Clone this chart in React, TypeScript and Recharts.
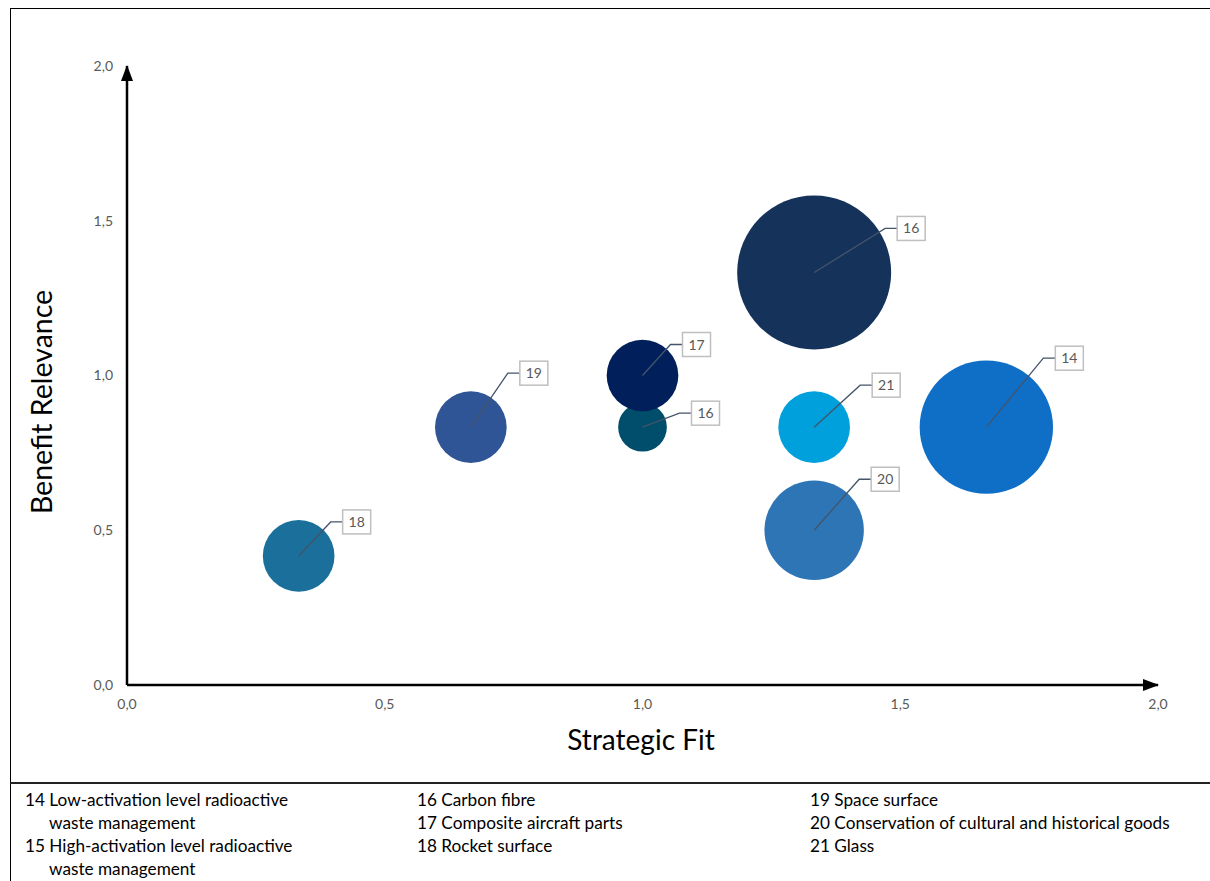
import React from 'react';
import { ScatterChart, Scatter, XAxis, YAxis, ZAxis, Cell } from 'recharts';

// bubble values, drawn in this order (small 16 before 17 so 17 sits on top)
const ids = ['14', '16', '21', '20', '16', '17', '19', '18'];
const strategicFit = [1.667, 1.333, 1.333, 1.333, 1.0, 1.0, 0.667, 0.333];
const benefitRelevance = [0.833, 1.333, 0.833, 0.5, 0.833, 1.0, 0.833, 0.417];
const bubbleSize = [4.5, 6.0, 1.3, 2.5, 0.6, 1.3, 1.3, 1.3];

const ticks = [0, 0.5, 1, 1.5, 2];

const legendCols = [
  ['14 Low-activation level radioactive|waste management', '15 High-activation level radioactive|waste management'],
  ['16 Carbon fibre', '17 Composite aircraft parts', '18 Rocket surface'],
  ['19 Space surface', '20 Conservation of cultural and historical goods', '21 Glass'],
];

const COLORS = ['#0f6fc6', '#14325a', '#00a0dc', '#2e75b6', '#004e6b', '#001f5b', '#2f5597', '#1a709b'];
// callout box centre offsets from the bubble centre, px
const CALLOUT = [
  [83, -69],
  [97, -44],
  [72, -42],
  [71, -51],
  [63, -14],
  [54, -31],
  [63, -54],
  [58, -34],
];

const data = ids.map((id, i) => ({
  id,
  x: strategicFit[i],
  y: benefitRelevance[i],
  z: bubbleSize[i],
}));

const FONT = 'Lato, "Open Sans", sans-serif';
const fmt = (v: number) => v.toFixed(1).replace('.', ',');

const Callout = (props: any) => {
  const { cx, cy, index } = props;
  const [dx, dy] = CALLOUT[index];
  const bx = cx + dx;
  const by = cy + dy;
  const w = 28;
  const h = 24;
  const ex = bx - w / 2 - 12;
  return (
    <g>
      <polyline
        points={`${cx},${cy} ${ex},${by} ${bx - w / 2},${by}`}
        fill="none"
        stroke="#44546a"
        strokeWidth={1.3}
      />
      <rect x={bx - w / 2} y={by - h / 2} width={w} height={h} fill="#fff" stroke="#bfbfbf" strokeWidth={1.5} />
      <text x={bx} y={by} dy="0.36em" textAnchor="middle" fontSize={14} fill="#595959" fontFamily={FONT}>
        {props.payload.id}
      </text>
    </g>
  );
};

export default function App() {
  return (
    <div style={{ position: 'absolute', left: 0, top: 0, width: 1210, height: 881, background: '#fff', overflow: 'hidden', fontFamily: FONT }}>
      <div style={{ position: 'absolute', left: 10, top: 8, width: 1220, height: 900, border: '1.5px solid #000', boxSizing: 'border-box' }} />
      <div style={{ position: 'absolute', left: 10, top: 782, width: 1210, height: 1.5, background: '#222' }} />

      <div style={{ position: 'absolute', left: 0, top: 0 }}>
        <ScatterChart width={1210} height={781} margin={{ top: 66, right: 52, bottom: 66, left: 67 }}>
          <defs>
            <marker id="arrow" viewBox="0 0 16 12" markerWidth={16} markerHeight={12} refX={15} refY={6} orient="auto-start-reverse" markerUnits="userSpaceOnUse">
              <path d="M0,0 L16,6 L0,12 z" fill="#000" />
            </marker>
          </defs>
          <XAxis
            type="number"
            dataKey="x"
            domain={[0, 2]}
            ticks={ticks}
            tickFormatter={fmt}
            tickLine={false}
            tickMargin={8}
            height={30}
            axisLine={{ stroke: '#000', strokeWidth: 2.5, markerEnd: 'url(#arrow)' }}
            tick={{ fill: '#595959', fontSize: 14, fontFamily: FONT }}
          />
          <YAxis
            type="number"
            dataKey="y"
            domain={[0, 2]}
            ticks={ticks}
            tickFormatter={fmt}
            tickLine={false}
            tickMargin={8}
            width={60}
            axisLine={{ stroke: '#000', strokeWidth: 2.5, markerStart: 'url(#arrow)' }}
            tick={{ fill: '#595959', fontSize: 14, fontFamily: FONT }}
          />
          <ZAxis type="number" dataKey="z" domain={[0, 6]} range={[0, 18627]} />
          <Scatter data={data} isAnimationActive={false}>
            {data.map((d, i) => (
              <Cell key={i} fill={COLORS[i]} />
            ))}
          </Scatter>
          <Scatter data={data} isAnimationActive={false} shape={Callout} />
        </ScatterChart>
      </div>

      <div style={{ position: 'absolute', left: 41, top: 402, transform: 'translate(-50%, -50%) rotate(-90deg)', fontSize: 28.5, whiteSpace: 'nowrap', color: '#000' }}>
        Benefit Relevance
      </div>
      <div style={{ position: 'absolute', left: 641, top: 739, transform: 'translate(-50%, -50%)', fontSize: 28, whiteSpace: 'nowrap', color: '#000' }}>
        Strategic Fit
      </div>

      {legendCols.map((col, ci) => (
        <div key={ci} style={{ position: 'absolute', left: [25, 417, 810][ci], top: 788, fontSize: 17.2, lineHeight: '23px', color: '#000' }}>
          {col.map((item) =>
            item.split('|').map((line, li) => (
              <div key={item + li} style={{ paddingLeft: li > 0 ? 24 : 0, whiteSpace: 'nowrap' }}>
                {line}
              </div>
            ))
          )}
        </div>
      ))}
    </div>
  );
}
